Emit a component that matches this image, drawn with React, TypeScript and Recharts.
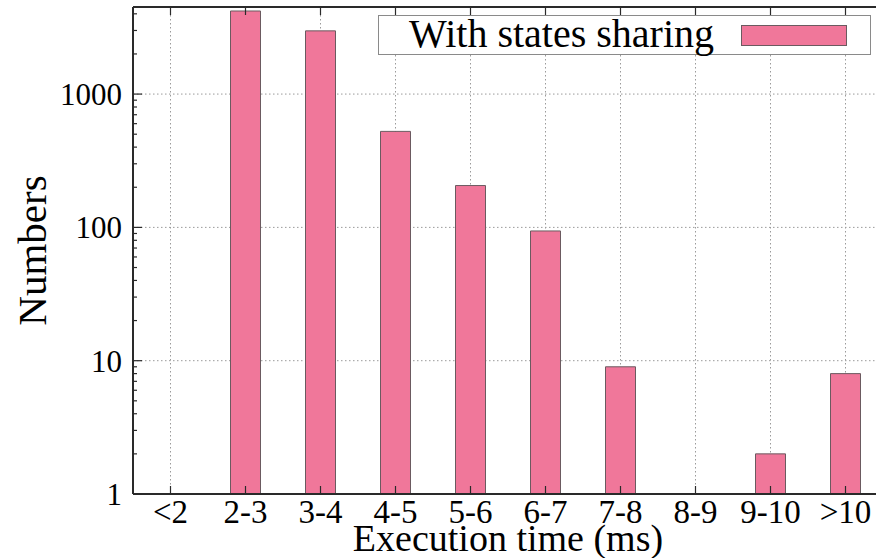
import React from 'react';
import {
  BarChart,
  Bar,
  XAxis,
  YAxis,
  CartesianGrid,
  Legend,
} from 'recharts';

// Execution-time buckets and how many runs fell into each
const buckets = ['<2', '2-3', '3-4', '4-5', '5-6', '6-7', '7-8', '8-9', '9-10', '>10'];
const counts: (number | null)[] = [null, 4200, 2980, 525, 206, 94, 9, null, 2, 8];

const seriesName = 'With states sharing';
const majorTicks = [1, 10, 100, 1000];
const minorTicks = [
  2, 3, 4, 5, 6, 7, 8, 9,
  20, 30, 40, 50, 60, 70, 80, 90,
  200, 300, 400, 500, 600, 700, 800, 900,
  2000, 3000, 4000,
];
const allYTicks = [...majorTicks, ...minorTicks].sort((a, b) => a - b);
const yDomain: [number, number] = [1, 4500];

const data = buckets.map((b, i) => ({ bucket: b, count: counts[i] }));

const FONT = '"Liberation Serif", "Times New Roman", serif';
const BAR_FILL = '#F0779A';
const BAR_STROKE = '#6b5a60';
const AXIS = '#2a2a2a';

const Y_TICK_GAP = 11;
const X_TICK_GAP = 6;

// Left axis: label on major values, inward mark on every value (longer on majors)
const YTick = (props: any) => {
  const { x, y, payload } = props;
  const major = majorTicks.includes(payload.value);
  const axisX = x + Y_TICK_GAP;
  return (
    <g>
      <line x1={axisX} y1={y} x2={axisX + (major ? 9 : 4)} y2={y} stroke={AXIS} strokeWidth={1.2} />
      {major && (
        <text x={x} y={y} dy="0.355em" textAnchor="end" fill="#000" fontSize={31} fontFamily={FONT}>
          {payload.value}
        </text>
      )}
    </g>
  );
};

// Bottom axis: category label plus an inward mark at the category centre
const XTick = (props: any) => {
  const { x, y, payload } = props;
  const axisY = y - X_TICK_GAP;
  return (
    <g>
      <line x1={x} y1={axisY} x2={x} y2={axisY - 8} stroke={AXIS} strokeWidth={1.2} />
      <text x={x} y={y} dy="0.71em" textAnchor="middle" fill="#000" fontSize={33} fontFamily={FONT}>
        {payload.value}
      </text>
    </g>
  );
};

// Top border: inward marks only
const TopTick = (props: any) => {
  const { x, y } = props;
  return <line x1={x} y1={y} x2={x} y2={y + 8} stroke={AXIS} strokeWidth={1.2} />;
};

const renderLegend = (props: any) => {
  const items = (props.payload || []).filter((p: any) => p.type !== 'none');
  const item = items[0] || { value: seriesName, color: BAR_FILL };
  return (
    <div
      style={{
        width: 491,
        height: 38,
        border: '1px solid #8a8a8a',
        background: '#fff',
        position: 'relative',
        fontFamily: FONT,
      }}
    >
      <span
        style={{
          position: 'absolute',
          left: 30,
          top: -6,
          fontSize: 40,
          lineHeight: '48px',
          color: '#000',
          whiteSpace: 'nowrap',
        }}
      >
        {item.value}
      </span>
      <span
        style={{
          position: 'absolute',
          left: 362,
          top: 9,
          width: 104,
          height: 19,
          background: BAR_FILL,
          border: `1px solid ${BAR_STROKE}`,
        }}
      />
    </div>
  );
};

export default function App() {
  return (
    <div
      style={{
        position: 'fixed',
        left: 0,
        top: 0,
        width: 876,
        height: 558,
        overflow: 'hidden',
        background: '#fff',
      }}
    >
      <BarChart
        width={900}
        height={558}
        data={data}
        margin={{ top: 6, right: 17, left: 0, bottom: 0 }}
        barCategoryGap="30%"
      >
        <CartesianGrid
          xAxisId="main"
          yAxisId="main"
          stroke="#9a9a9a"
          strokeDasharray="1.5 2.5"
          horizontalValues={majorTicks}
        />
        <XAxis
          xAxisId="main"
          dataKey="bucket"
          height={64}
          tickSize={0}
          tickMargin={X_TICK_GAP}
          axisLine={{ stroke: AXIS, strokeWidth: 2 }}
          tickLine={false}
          interval={0}
          tick={XTick}
          label={{
            value: 'Execution time (ms)',
            position: 'insideBottom',
            offset: 7,
            style: { fill: '#000', fontSize: 38, fontFamily: FONT },
          }}
        />
        {/* top border of the plot frame */}
        <XAxis
          xAxisId="top"
          dataKey="bucket"
          orientation="top"
          height={1}
          tickSize={0}
          tickMargin={0}
          tickLine={false}
          interval={0}
          axisLine={{ stroke: AXIS, strokeWidth: 2 }}
          tick={TopTick}
        />
        <YAxis
          yAxisId="main"
          width={133}
          scale="log"
          domain={yDomain}
          allowDataOverflow
          ticks={allYTicks}
          interval={0}
          tickSize={0}
          tickMargin={Y_TICK_GAP}
          tickLine={false}
          axisLine={{ stroke: AXIS, strokeWidth: 2 }}
          tick={YTick}
          label={{
            value: 'Numbers',
            angle: -90,
            position: 'insideLeft',
            offset: 31,
            style: { fill: '#000', fontSize: 41, fontFamily: FONT, textAnchor: 'middle' },
          }}
        />
        <Legend
          layout="horizontal"
          verticalAlign="middle"
          align="center"
          content={renderLegend}
          wrapperStyle={{ position: 'absolute', left: 378, top: 15, width: 493, height: 40 }}
        />
        <Bar
          xAxisId="main"
          yAxisId="main"
          dataKey="count"
          name={seriesName}
          fill={BAR_FILL}
          stroke={BAR_STROKE}
          strokeWidth={1}
          isAnimationActive={false}
        />
        {/* unpainted twin series so the top frame axis gets its category scale */}
        <Bar
          xAxisId="top"
          yAxisId="main"
          dataKey="count"
          fill="none"
          stroke="none"
          legendType="none"
          isAnimationActive={false}
        />
      </BarChart>
    </div>
  );
}
